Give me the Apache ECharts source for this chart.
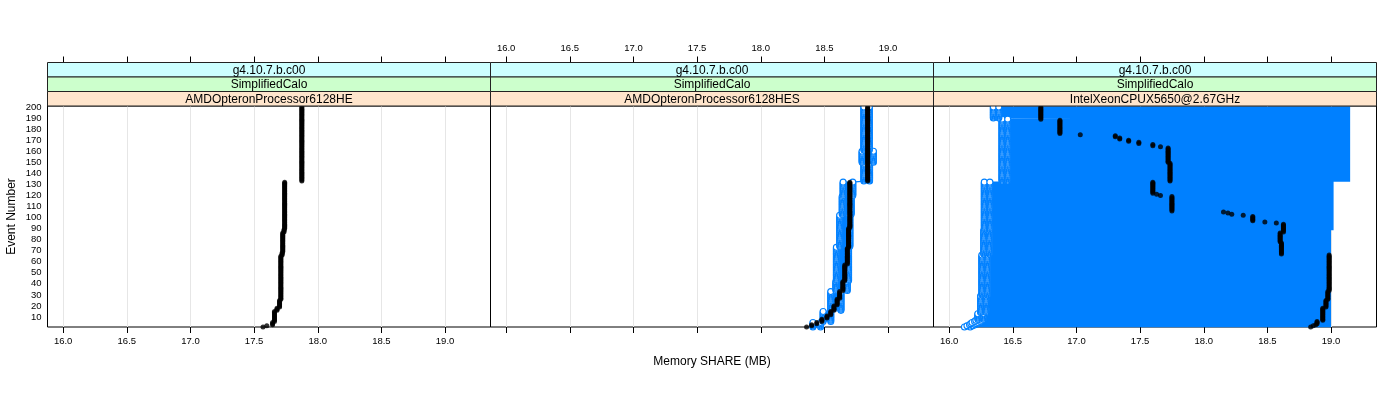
<!DOCTYPE html>
<html><head><meta charset="utf-8">
<script src="https://cdn.jsdelivr.net/npm/echarts@6/dist/echarts.min.js"></script>
<style>html,body{margin:0;padding:0;background:#fff}#c{width:1400px;height:400px}</style>
</head><body><div id="c"></div>
<script>
// ---------- data ----------
const xTicks = [16.0, 16.5, 17.0, 17.5, 18.0, 18.5, 19.0];
const yTicks = [10,20,30,40,50,60,70,80,90,100,110,120,130,140,150,160,170,180,190,200];
const versions = ["g4.10.7.b.c00", "g4.10.7.b.c00", "g4.10.7.b.c00"];
const tests = ["SimplifiedCalo", "SimplifiedCalo", "SimplifiedCalo"];
const processors = ["AMDOpteronProcessor6128HE", "AMDOpteronProcessor6128HES", "IntelXeonCPUX5650@2.67GHz"];
const xRange = [15.877, 19.357];
const yRange = [0.95, 200.9];

// black points: [fromEvent, toEvent, memoryShare]
const black1 = [[1,1,17.57],[2,2,17.60],[3,5,17.645],[6,15,17.66],[16,18,17.68],[19,25,17.70],[26,65,17.71],
  [66,68,17.72],[69,86,17.725],[87,89,17.735],[90,132,17.74],[133,200,17.875]];
const black2 = [[1,1,18.36],[2,3,18.40],[4,5,18.44],[6,8,18.48],[9,11,18.52],[12,15,18.55],[16,20,18.575],
  [21,26,18.60],[27,33,18.62],[34,42,18.645],[43,57,18.66],[58,72,18.68],[73,90,18.69],[91,132,18.70],[133,200,18.84]];
const black3 = [[1,1,18.84],[2,2,18.86],[3,3,18.88],[4,6,18.89],[7,18,18.935],[19,25,18.96],[26,33,18.975],
  [34,66,18.985],[67,77,18.61],[78,86,18.60],[87,94,18.626],[95,95,18.57],[96,96,18.48],[97,101,18.385],
  [102,102,18.31],[103,103,18.22],[104,104,18.19],[105,105,18.155],[106,119,17.75],[120,120,17.66],
  [121,121,17.63],[122,132,17.60],[133,149,17.735],[150,163,17.72],[164,164,17.66],[165,166,17.60],
  [167,168,17.49],[169,170,17.41],[171,172,17.34],[173,174,17.305],[175,175,17.03],[176,188,16.87],[189,200,16.72]];

// blue runs: [fromEvent, toEvent, x values ...]
const blue2 = [[1,5,18.41,18.47],[6,15,18.49,18.55],[16,33,18.55,18.63],[34,42,18.59,18.68],[43,73,18.594,18.69],
  [74,102,18.62,18.70],[103,119,18.64,18.71],[120,132,18.647,18.723],[133,149,18.81,18.855],
  [150,160,18.796,18.885],[161,200,18.81,18.853]];
const blue3 = [[1,1,16.12,16.165,19.0],[2,2,16.14,16.185,19.0],[3,3,16.16,16.205,19.0],[4,4,16.17,16.215,19.0],
  [5,5,16.18,16.225,19.0],[6,6,16.20,16.245,19.0],[7,7,16.21,16.255,19.0],[8,13,16.225,16.27,19.0],
  [14,29,16.247,16.29,19.0],[30,66,16.257,16.30,19.0],[67,88,16.271,16.315,19.0],[89,132,16.276,16.32,19.02],
  [133,189,16.415,16.46,19.15],[190,200,16.347,16.39,19.15]];

// ---------- layout / style ----------
const PANEL_LEFT = [47.5, 490.5, 933.5];
const PANEL_W = 443, TOP = 106, H = 221, STRIP_H = 14.5;
const FONT = '"Liberation Sans", Arial, Helvetica, sans-serif';
const STRIP_COLS = ['#ccffff', '#ccffcc', '#ffe5cc'];
const BLUE = '#0080ff';

function expandBlack(segs) {
  const out = [];
  segs.forEach(([a, b, v]) => { for (let e = a; e <= b; e++) out.push([v, e]); });
  return out;
}
function expandBlueLine(segs) {
  const out = [];
  segs.forEach(s => {
    const [a, b, ...xs] = s;
    for (let e = a; e <= b; e++) xs.forEach(x => out.push([x, e]));
  });
  return out;
}
function expandBlueCircles(segs, rightCircle) {
  const out = [];
  segs.forEach(s => {
    const [a, b, ...xs] = s;
    const cx = rightCircle ? xs : xs.slice(0, -1);
    for (let e = a; e <= b; e++) cx.forEach(x => out.push([x, e]));
  });
  return out;
}

const blacks = [black1, black2, black3];
const blues = [null, blue2, blue3];
const rightCircle = [false, true, false];

const grid = [], xAxis = [], yAxis = [], series = [], graphic = [];
for (let i = 0; i < 3; i++) {
  grid.push({ left: PANEL_LEFT[i], top: TOP, width: PANEL_W, height: H, show: true,
    borderColor: '#000', borderWidth: 1, backgroundColor: 'transparent' });
  const lbl = (show) => ({ show, customValues: xTicks, formatter: v => v.toFixed(1),
    fontSize: 9.5, fontFamily: FONT, color: '#000', margin: 9 });
  xAxis.push({ gridIndex: i, type: 'value', min: xRange[0], max: xRange[1], position: 'bottom',
    axisLine: { show: false }, splitLine: { show: false },
    axisTick: { show: true, length: 6, customValues: xTicks, lineStyle: { color: '#000', width: 1 } },
    axisLabel: lbl(i !== 1) });
  xAxis.push({ gridIndex: i, type: 'value', min: xRange[0], max: xRange[1], position: 'top',
    offset: 3 * STRIP_H, axisLine: { show: false }, splitLine: { show: false },
    axisTick: { show: true, length: 6, customValues: xTicks, lineStyle: { color: '#000', width: 1 } },
    axisLabel: lbl(i === 1) });
  yAxis.push({ gridIndex: i, type: 'value', min: yRange[0], max: yRange[1], show: i === 0,
    axisLine: { show: false }, axisTick: { show: false }, splitLine: { show: false },
    axisLabel: { show: i === 0, customValues: yTicks, fontSize: 9.5, fontFamily: FONT, color: '#000', margin: 6 } });

  // reference grid lines
  series.push({ type: 'line', xAxisIndex: 2 * i, yAxisIndex: i, data: [], z: 1, silent: true,
    markLine: { silent: true, z: 1, symbol: ['none', 'none'], label: { show: false }, animation: false,
      lineStyle: { color: '#e6e6e6', width: 1, type: 'solid' },
      emphasis: { disabled: true },
      data: xTicks.map(v => ({ xAxis: v })) } });
  if (blues[i]) {
    series.push({ type: 'line', xAxisIndex: 2 * i, yAxisIndex: i, z: 2, silent: true,
      data: expandBlueLine(blues[i]), showSymbol: false, clip: true,
      lineStyle: { color: BLUE, width: 1.2 } });
    series.push({ type: 'scatter', xAxisIndex: 2 * i, yAxisIndex: i, z: 3, silent: true,
      data: expandBlueCircles(blues[i], rightCircle[i]), symbol: 'circle', symbolSize: 6, clip: true,
      itemStyle: { color: '#ffffff', borderColor: BLUE, borderWidth: 1.1, opacity: 1 } });
  }
  series.push({ type: 'scatter', xAxisIndex: 2 * i, yAxisIndex: i, z: 4, silent: true,
    data: expandBlack(blacks[i]), symbol: 'circle', symbolSize: 5, clip: true,
    itemStyle: { color: '#000' } });

  // strips
  const stripText = [versions[i], tests[i], processors[i]];
  for (let k = 0; k < 3; k++) {
    const y0 = TOP - 3 * STRIP_H + k * STRIP_H;
    graphic.push({ type: 'rect', z: 10, shape: { x: PANEL_LEFT[i], y: y0, width: PANEL_W, height: STRIP_H },
      style: { fill: STRIP_COLS[k], stroke: '#222', lineWidth: 1 } });
    graphic.push({ type: 'text', z: 11, x: PANEL_LEFT[i] + PANEL_W / 2, y: y0 + STRIP_H / 2 + 0.5,
      style: { text: stripText[k], align: 'center', verticalAlign: 'middle', font: '12px ' + FONT, fill: '#000' } });
  }
}
graphic.push({ type: 'text', x: (PANEL_LEFT[0] + PANEL_LEFT[2] + PANEL_W) / 2, y: 362,
  style: { text: 'Memory SHARE (MB)', align: 'center', verticalAlign: 'middle', font: '12px ' + FONT, fill: '#000' } });
graphic.push({ type: 'text', x: 12, y: TOP + H / 2, rotation: Math.PI / 2,
  style: { text: 'Event Number', align: 'center', verticalAlign: 'middle', font: '12px ' + FONT, fill: '#000' } });

const chart = echarts.init(document.getElementById('c'), null, { renderer: 'canvas' });
chart.setOption({ animation: false, backgroundColor: '#fff', grid, xAxis, yAxis, series, graphic });
</script>
</body></html>
